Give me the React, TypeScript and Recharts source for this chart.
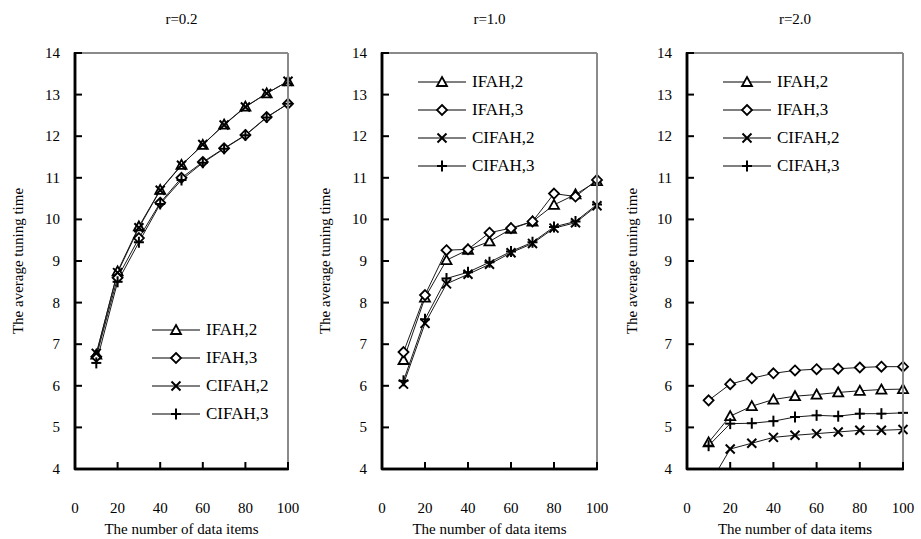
import React from "react";
import { LineChart, Line, XAxis, YAxis, Legend, Customized } from "recharts";

// Data
const dataItems = [10, 20, 30, 40, 50, 60, 70, 80, 90, 100];
const xTicks = [0, 20, 40, 60, 80, 100];
const yTicks = [4, 5, 6, 7, 8, 9, 10, 11, 12, 13, 14];

// r=0.2
const ifah2R02 = [6.75, 8.75, 9.83, 10.71, 11.31, 11.79, 12.28, 12.71, 13.03, 13.32];
const ifah3R02 = [6.7, 8.6, 9.55, 10.4, 11.0, 11.38, 11.71, 12.03, 12.46, 12.78];
const cifah2R02 = [6.78, 8.72, 9.8, 10.7, 11.3, 11.8, 12.27, 12.7, 13.03, 13.32];
const cifah3R02 = [6.55, 8.5, 9.45, 10.37, 10.95, 11.36, 11.7, 12.02, 12.45, 12.78];

// r=1.0
const ifah2R10 = [6.62, 8.12, 9.02, 9.27, 9.47, 9.77, 9.95, 10.35, 10.6, 10.92];
const ifah3R10 = [6.81, 8.18, 9.26, 9.28, 9.68, 9.79, 9.95, 10.62, 10.55, 10.95];
const cifah2R10 = [6.04, 7.5, 8.45, 8.68, 8.92, 9.2, 9.42, 9.79, 9.92, 10.33];
const cifah3R10 = [6.12, 7.6, 8.58, 8.73, 8.97, 9.23, 9.45, 9.82, 9.95, 10.36];

// r=2.0
const ifah2R20 = [4.64, 5.27, 5.51, 5.67, 5.75, 5.79, 5.84, 5.88, 5.91, 5.92];
const ifah3R20 = [5.65, 6.04, 6.18, 6.3, 6.37, 6.4, 6.41, 6.44, 6.46, 6.46];
const cifah2R20 = [3.6, 4.48, 4.62, 4.76, 4.81, 4.85, 4.89, 4.93, 4.93, 4.95];
const cifah3R20 = [4.56, 5.09, 5.1, 5.15, 5.25, 5.29, 5.27, 5.33, 5.33, 5.35];

const series = [
	{ key: "ifah2", name: "IFAH,2", shape: "triangle" },
	{ key: "ifah3", name: "IFAH,3", shape: "diamond" },
	{ key: "cifah2", name: "CIFAH,2", shape: "cross" },
	{ key: "cifah3", name: "CIFAH,3", shape: "plus" },
];

const makeRows = (a: number[], b: number[], c: number[], d: number[]) =>
	dataItems.map((n, i) => ({ n, ifah2: a[i], ifah3: b[i], cifah2: c[i], cifah3: d[i] }));

const FONT = '"Liberation Serif", "Times New Roman", serif';
const W = 307;
const H = 539;
const TOP = 53;
const X_AXIS_H = 70;
const X_DOMAIN = [0, 100];
const Y_DOMAIN = [4, 14];

const panels = [
	{
		title: "r=0.2",
		x: 0,
		axisW: 75,
		right: 19,
		legend: { left: 152, top: 316 },
		rows: makeRows(ifah2R02, ifah3R02, cifah2R02, cifah3R02),
	},
	{
		title: "r=1.0",
		x: 307,
		axisW: 75,
		right: 17,
		legend: { left: 111, top: 68 },
		rows: makeRows(ifah2R10, ifah3R10, cifah2R10, cifah3R10),
	},
	{
		title: "r=2.0",
		x: 614,
		axisW: 73,
		right: 18,
		legend: { left: 109, top: 68 },
		rows: makeRows(ifah2R20, ifah3R20, cifah2R20, cifah3R20),
	},
];

const YTick = ({ x, y, payload }: any) => (
	<text x={x} y={y} dy={5} textAnchor="end" fill="#000" fontSize={15} fontFamily={FONT}>
		{payload.value}
	</text>
);

const XTick = ({ x, y, payload }: any) => (
	<text x={x} y={y} dy={10} textAnchor="middle" fill="#000" fontSize={15} fontFamily={FONT}>
		{payload.value}
	</text>
);

const Marker = ({ shape, cx, cy }: any) => {
	if (cx == null || cy == null) return null;
	const st = { stroke: "#000", strokeWidth: 1.8, fill: "#fff" };
	if (shape === "triangle")
		return <polygon points={`${cx},${cy - 5} ${cx + 5},${cy + 4} ${cx - 5},${cy + 4}`} {...st} />;
	if (shape === "diamond")
		return <polygon points={`${cx},${cy - 5} ${cx + 5},${cy} ${cx},${cy + 5} ${cx - 5},${cy}`} {...st} />;
	if (shape === "cross")
		return (
			<g stroke="#000" strokeWidth={2}>
				<line x1={cx - 4.5} y1={cy - 4.5} x2={cx + 4.5} y2={cy + 4.5} />
				<line x1={cx - 4.5} y1={cy + 4.5} x2={cx + 4.5} y2={cy - 4.5} />
			</g>
		);
	return (
		<g stroke="#000" strokeWidth={2}>
			<line x1={cx - 5} y1={cy} x2={cx + 5} y2={cy} />
			<line x1={cx} y1={cy - 5.5} x2={cx} y2={cy + 5.5} />
		</g>
	);
};

const LegendBox = ({ payload }: any) => {
	const list = [...(payload || [])].sort(
		(a: any, b: any) =>
			series.findIndex((s) => s.key === a.dataKey) - series.findIndex((s) => s.key === b.dataKey)
	);
	return (
		<div>
			{list.map((p: any) => {
				const s = series.find((s) => s.key === p.dataKey)!;
				return (
					<div key={s.key} style={{ display: "flex", alignItems: "center", height: 28 }}>
						<svg width={48} height={14}>
							<line x1={0} y1={7} x2={48} y2={7} stroke="#000" strokeWidth={1} />
							<Marker shape={s.shape} cx={24} cy={7} />
						</svg>
						<span style={{ marginLeft: 6, fontSize: 17, fontFamily: FONT, color: "#000" }}>{p.value}</span>
					</div>
				);
			})}
		</div>
	);
};

// panel title and axis titles
const Titles = ({ p }: any) => {
	const left = p.axisW;
	const right = W - p.right;
	const bottom = H - X_AXIS_H;
	const cx = (left + right) / 2;
	const cy = (TOP + bottom) / 2;
	const txt = { fontFamily: FONT, fontSize: 15, fill: "#000", textAnchor: "middle" as const };
	return (
		<g>
			<text x={cx} y={24} {...txt}>
				{p.title}
			</text>
			<text x={cx} y={H - 5} {...txt}>
				The number of data items
			</text>
			<text x={18} y={cy} dy={5} transform={`rotate(-90, 18, ${cy})`} {...txt}>
				The average tuning time
			</text>
		</g>
	);
};

// plot frame with inward ticks, laid over the chart
const Frame = ({ p }: any) => {
	const left = p.axisW;
	const right = W - p.right;
	const bottom = H - X_AXIS_H;
	const px = (v: number) => left + ((v - X_DOMAIN[0]) / (X_DOMAIN[1] - X_DOMAIN[0])) * (right - left);
	const py = (v: number) => bottom - ((v - Y_DOMAIN[0]) / (Y_DOMAIN[1] - Y_DOMAIN[0])) * (bottom - TOP);
	return (
		<svg
			width={W}
			height={H}
			style={{ position: "absolute", left: 0, top: 0, pointerEvents: "none", overflow: "visible" }}
		>
			<line x1={left} y1={TOP} x2={right} y2={TOP} stroke="#8a8a8a" strokeWidth={2} />
			<line x1={right} y1={TOP} x2={right} y2={bottom} stroke="#8a8a8a" strokeWidth={2} />
			<line x1={left} y1={TOP - 1} x2={left} y2={bottom + 1} stroke="#000" strokeWidth={2.5} />
			<line x1={left - 1} y1={bottom} x2={right + 1} y2={bottom} stroke="#000" strokeWidth={2.5} />
			{yTicks.map((t) => (
				<line key={`y${t}`} x1={left} y1={py(t)} x2={left + 7} y2={py(t)} stroke="#000" strokeWidth={2} />
			))}
			{xTicks.map((t) => (
				<line key={`x${t}`} x1={px(t)} y1={bottom} x2={px(t)} y2={bottom - 7} stroke="#000" strokeWidth={2} />
			))}
		</svg>
	);
};

const App = () => {
	return (
		<div style={{ position: "absolute", left: 0, top: 0, width: 921, height: 539, background: "#fff" }}>
			{panels.map((p) => (
				<div key={p.title} style={{ position: "absolute", left: p.x, top: 0, width: W, height: H }}>
					<LineChart width={W} height={H} data={p.rows} margin={{ top: TOP, right: p.right, bottom: 0, left: 0 }}>
						<Customized component={() => <Titles p={p} />} />
						<XAxis
							type="number"
							dataKey="n"
							domain={X_DOMAIN}
							ticks={xTicks}
							height={X_AXIS_H}
							axisLine={{ stroke: "#000", strokeWidth: 2.5 }}
							tickLine={false}
							tickMargin={28}
							tick={<XTick />}
						/>
						<YAxis
							type="number"
							domain={Y_DOMAIN}
							ticks={yTicks}
							allowDataOverflow
							width={p.axisW}
							axisLine={{ stroke: "#000", strokeWidth: 2.5 }}
							tickLine={false}
							tickMargin={9}
							tick={<YTick />}
						/>
						{series.map((s) => (
							<Line
								key={s.key}
								type="linear"
								dataKey={s.key}
								name={s.name}
								stroke="#1a1a1a"
								strokeWidth={1}
								isAnimationActive={false}
								dot={<Marker shape={s.shape} />}
							/>
						))}
						<Legend
							layout="vertical"
							align="center"
							verticalAlign="middle"
							content={(props: any) => <LegendBox {...props} />}
							wrapperStyle={{ left: p.legend.left, top: p.legend.top, width: "auto" }}
						/>
					</LineChart>
					<Frame p={p} />
				</div>
			))}
		</div>
	);
};

export default App;
